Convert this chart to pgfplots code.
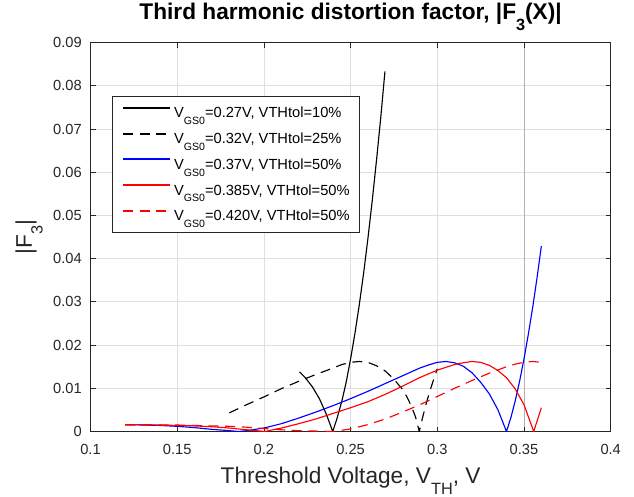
\documentclass[border=0pt]{standalone}
\usepackage{pgfplots}
\pgfplotsset{compat=1.18}
\usepackage{graphicx}
\usepackage{fontspec}
\setmainfont{Liberation Sans}
\definecolor{axcol}{HTML}{262626}
\definecolor{gridcol}{HTML}{DFDFDF}
\definecolor{mblue}{RGB}{0,0,255}
\definecolor{mred}{RGB}{255,0,0}
\newcommand{\sub}[1]{\raisebox{-0.47em}{\scalebox{0.72}{#1}}}
\begin{document}
\begin{tikzpicture}
\begin{axis}[
  scale only axis,
  width=390.15pt, height=291.75pt,
  xmin=0.1, xmax=0.4, ymin=0, ymax=0.09,
  scaled x ticks=false, scaled y ticks=false,
  xtick={0.1,0.15,0.2,0.25,0.3,0.35,0.4},
  xticklabels={0.1,0.15,0.2,0.25,0.3,0.35,0.4},
  ytick={0,0.01,0.02,0.03,0.04,0.05,0.06,0.07,0.08,0.09},
  yticklabels={0,0.01,0.02,0.03,0.04,0.05,0.06,0.07,0.08,0.09},
  extra x ticks={0.35}, extra x tick labels={},
  extra x tick style={major grid style={color=black!30, line width=0.7pt}},
  tick align=inside,
  major tick length=3.75pt,
  tick style={color=axcol, line width=0.6pt},
  axis line style={color=axcol, line width=0.6pt},
  grid=major,
  major grid style={color=gridcol, line width=0.6pt},
  ticklabel style={font=\fontsize{11}{13}\selectfont, text=axcol},
  xticklabel style={anchor=base, yshift=-16.9pt},
  yticklabel style={anchor=east, inner sep=0pt, xshift=-6.4pt},
  title={Third harmonic distortion factor, |F\sub{3}(X)|},
  every axis title/.style={at={(axis description cs:0.5,1.0579)}, anchor=base, font=\fontsize{17}{20}\selectfont\bfseries, text=black, inner sep=0pt},
  xlabel={Threshold Voltage, V\sub{TH}, V},
  every axis x label/.style={at={(axis description cs:0.5,-0.1335)}, anchor=base, font=\fontsize{17}{20}\selectfont, text=axcol, inner sep=0pt},
  ylabel={|F\sub{3}|},
  every axis y label/.style={at={(axis description cs:-0.1125,0.5)}, rotate=90, anchor=base, font=\fontsize{17}{20}\selectfont, text=axcol, inner sep=0pt},
  legend style={at={(axis description cs:0.0408,0.863)}, anchor=north west,
    draw=axcol, line width=0.6pt, fill=white,
    inner xsep=7.5pt, inner ysep=4pt, row sep=2.5pt,
    font=\fontsize{11}{13}\selectfont,
    nodes={inner sep=0pt, text height=12.25pt, text depth=4.55pt},
    /tikz/every odd column/.append style={column sep=2.5pt}},
  legend cell align=left,
  legend image code/.code={\draw[#1, line width=1.5pt] (0pt,3.6pt) -- (35pt,3.6pt);},
]
\addplot[color=black, line width=0.85pt] coordinates {
(0.2205,0.0138) (0.2240,0.0124) (0.2280,0.0103) (0.2320,0.0076) (0.2360,0.0040)
(0.2397,0.0000) (0.2420,0.0028) (0.2450,0.0071) (0.2475,0.0115) (0.2500,0.0168)
(0.2525,0.0227) (0.2550,0.0293) (0.2575,0.0366) (0.2600,0.0447) (0.2625,0.0535)
(0.2650,0.0630) (0.2675,0.0731) (0.2698,0.0833)};
\addlegendentry{V\sub{GS0}=0.27V, VTHtol=10\%}
\addplot[color=black, line width=0.85pt, dash pattern=on 7.5pt off 5pt] coordinates {
(0.1800,0.0043) (0.1900,0.0062) (0.2000,0.0080) (0.2100,0.0099) (0.2200,0.0116)
(0.2300,0.0132) (0.2400,0.0147) (0.2450,0.0155) (0.2500,0.0160) (0.2550,0.0162)
(0.2600,0.0160) (0.2650,0.0152) (0.2700,0.0140) (0.2750,0.0121) (0.2800,0.0097)
(0.2825,0.0080) (0.2850,0.0059) (0.2875,0.0033) (0.2896,0.0000) (0.2915,0.0032)
(0.2939,0.0069) (0.2960,0.0097) (0.2980,0.0122) (0.3000,0.0145)};
\addlegendentry{V\sub{GS0}=0.32V, VTHtol=25\%}
\addplot[color=mblue, line width=0.85pt] coordinates {
(0.120,0.0016) (0.130,0.0015) (0.140,0.0014) (0.150,0.0012) (0.160,0.0009)
(0.170,0.0005) (0.180,0.0002) (0.1855,0.0000) (0.190,0.0002) (0.200,0.0008)
(0.210,0.0018) (0.220,0.0031) (0.230,0.0045) (0.240,0.0060) (0.250,0.0076)
(0.260,0.0093) (0.270,0.0111) (0.280,0.0129) (0.290,0.0147) (0.295,0.0154)
(0.300,0.0160) (0.305,0.0162) (0.310,0.0159) (0.315,0.0151) (0.320,0.0136)
(0.325,0.0114) (0.330,0.0087) (0.335,0.0050) (0.3399,0.0000) (0.3425,0.0033)
(0.345,0.0072) (0.3475,0.0117) (0.350,0.0168) (0.3525,0.0225) (0.355,0.0287)
(0.3575,0.0355) (0.360,0.0429)};
\addlegendentry{V\sub{GS0}=0.37V, VTHtol=50\%}
\addplot[color=mred, line width=0.85pt] coordinates {
(0.120,0.0016) (0.130,0.0016) (0.140,0.0015) (0.150,0.0014) (0.160,0.0013)
(0.170,0.0011) (0.180,0.0008) (0.190,0.0004) (0.2006,0.0000) (0.210,0.0008)
(0.220,0.0018) (0.230,0.0029) (0.240,0.0042) (0.250,0.0055) (0.260,0.0069)
(0.270,0.0086) (0.280,0.0105) (0.290,0.0125) (0.300,0.0142) (0.310,0.0155)
(0.315,0.0159) (0.320,0.0162) (0.325,0.0160) (0.330,0.0153) (0.335,0.0141)
(0.340,0.0124) (0.345,0.0098) (0.350,0.0062) (0.3556,0.0000) (0.3580,0.0030)
(0.360,0.0055)};
\addlegendentry{V\sub{GS0}=0.385V, VTHtol=50\%}
\addplot[color=mred, line width=0.85pt, dash pattern=on 7.5pt off 5pt] coordinates {
(0.120,0.0015) (0.130,0.0015) (0.140,0.0015) (0.150,0.0015) (0.160,0.0014)
(0.170,0.0013) (0.180,0.0012) (0.190,0.0010) (0.200,0.0007) (0.210,0.0004)
(0.220,0.0002) (0.230,0.0001) (0.2403,0.0000) (0.250,0.0006) (0.260,0.0016)
(0.270,0.0029) (0.280,0.0045) (0.290,0.0062) (0.300,0.0081) (0.310,0.0100)
(0.320,0.0118) (0.330,0.0135) (0.340,0.0150) (0.345,0.0156) (0.350,0.0160)
(0.355,0.0162) (0.360,0.0160)};
\addlegendentry{V\sub{GS0}=0.420V, VTHtol=50\%}
\end{axis}
\pgfresetboundingbox
\path[use as bounding box] (-67.875pt,-48.375pt) rectangle (407.625pt,323.625pt);
\end{tikzpicture}
\end{document}
